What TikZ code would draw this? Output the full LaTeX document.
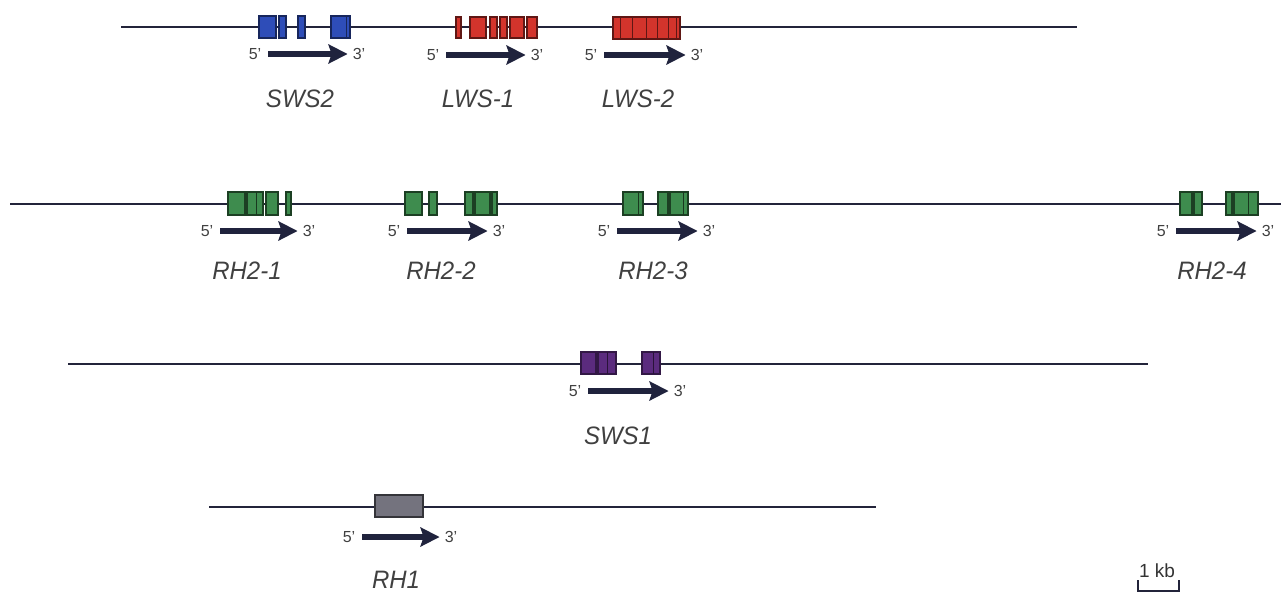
\documentclass[tikz,border=0pt]{standalone}
\usepackage{fontspec}
\setmainfont{Liberation Sans}
\usetikzlibrary{arrows.meta}
\definecolor{dna}{HTML}{23243A}
\definecolor{arr}{HTML}{20233D}
\definecolor{blueex}{HTML}{2E4DB8}
\definecolor{redex}{HTML}{D3342C}
\definecolor{greenex}{HTML}{3E8C4E}
\definecolor{purpex}{HTML}{5B2B7E}
\definecolor{grayex}{HTML}{74737E}
\tikzset{
  dnaline/.style={draw=dna, line width=2.6pt},
  exon/.style={line width=1.2pt},
  sws2ex/.style={exon, fill=blueex, draw=blueex!50!black},
  lwsex/.style={exon, fill=redex, draw=redex!45!black},
  rh2ex/.style={exon, fill=greenex, draw=greenex!45!black},
  sws1ex/.style={exon, fill=purpex, draw=purpex!55!black},
  rh1ex/.style={exon, fill=grayex, draw=grayex!45!black},
  endlbl/.style={font=\fontsize{16}{16}\selectfont, text=black!75, inner sep=0pt},
  genelbl/.style={font=\fontsize{24}{24}\selectfont\itshape, text=black!75, inner sep=0pt, yscale=1.05},
  genearrow/.style={draw=arr, line width=6pt, -{Stealth[width=19pt,length=19pt,inset=3pt]}, shorten <=7pt, shorten >=5pt},
}
\begin{document}
\begin{tikzpicture}[x=1pt,y=-1pt]
\useasboundingbox (0,0) rectangle (1281,594);
% ---------- Row 1 ----------
\coordinate (r1a) at (121,27); \coordinate (r1b) at (1077,27);
\draw[dnaline] (r1a) -- (r1b);
% SWS2
\draw[sws2ex] (259,16) rectangle (276,38);
\draw[sws2ex] (279,16) rectangle (286,38);
\draw[sws2ex] (298,16) rectangle (305,38);
\draw[sws2ex] (331,16) rectangle (350,38);
\draw[blueex!50!black, line width=0.8pt] (346,16) -- (346,38);
\node[endlbl] (s2five) at (255,54) {5'};
\node[endlbl] (s2three) at (359,54) {3'};
\draw[genearrow] (s2five) -- (s2three);
\node[genelbl] (s2) at (300,99) {SWS2};
% LWS-1
\draw[lwsex] (456,17) rectangle (461,38);
\draw[lwsex] (470,17) rectangle (486,38);
\draw[lwsex] (490,17) rectangle (497,38);
\draw[lwsex] (500,17) rectangle (507,38);
\draw[lwsex] (510,17) rectangle (524,38);
\draw[lwsex] (527,17) rectangle (537,38);
\node[endlbl] (l1five) at (433,55) {5'};
\node[endlbl] (l1three) at (537,55) {3'};
\draw[genearrow] (l1five) -- (l1three);
\node[genelbl] (l1) at (478,99) {LWS-1};
% LWS-2
\draw[lwsex] (613,17) rectangle (680,39);
\foreach \xx in {620,632,646,657,668,676}{\draw[redex!45!black, line width=1pt] (\xx,17) -- (\xx,39);}
\node[endlbl] (l2five) at (591,55) {5'};
\node[endlbl] (l2three) at (697,55) {3'};
\draw[genearrow] (l2five) -- (l2three);
\node[genelbl] (l2) at (638,99) {LWS-2};
% ---------- Row 2 ----------
\coordinate (r2a) at (10,204); \coordinate (r2b) at (1281,204);
\draw[dnaline] (r2a) -- (r2b);
% RH2-1
\draw[rh2ex] (228,192) rectangle (245,215);
\draw[rh2ex] (247,192) rectangle (263,215);
\draw[rh2ex] (266,192) rectangle (278,215);
\draw[rh2ex] (286,192) rectangle (291,215);
\draw[greenex!40!black, line width=1pt] (256,192) -- (256,215);
\node[endlbl] (a1five) at (207,231) {5'};
\node[endlbl] (a1three) at (309,231) {3'};
\draw[genearrow] (a1five) -- (a1three);
\node[genelbl] (a1) at (247,271) {RH2-1};
% RH2-2
\draw[rh2ex] (405,192) rectangle (422,215);
\draw[rh2ex] (429,192) rectangle (437,215);
\draw[rh2ex] (465,192) rectangle (473,215);
\draw[rh2ex] (475,192) rectangle (490,215);
\draw[rh2ex] (492,192) rectangle (497,215);
\node[endlbl] (a2five) at (394,231) {5'};
\node[endlbl] (a2three) at (499,231) {3'};
\draw[genearrow] (a2five) -- (a2three);
\node[genelbl] (a2) at (441,271) {RH2-2};
% RH2-3
\draw[rh2ex] (623,192) rectangle (643,215);
\draw[rh2ex] (658,192) rectangle (668,215);
\draw[rh2ex] (670,192) rectangle (688,215);
\draw[greenex!40!black, line width=1pt] (638,192) -- (638,215);
\draw[greenex!40!black, line width=1pt] (683,192) -- (683,215);
\node[endlbl] (a3five) at (604,231) {5'};
\node[endlbl] (a3three) at (709,231) {3'};
\draw[genearrow] (a3five) -- (a3three);
\node[genelbl] (a3) at (653,271) {RH2-3};
% RH2-4
\draw[rh2ex] (1180,192) rectangle (1192,215);
\draw[rh2ex] (1194,192) rectangle (1202,215);
\draw[rh2ex] (1226,192) rectangle (1232,215);
\draw[rh2ex] (1234,192) rectangle (1258,215);
\draw[greenex!40!black, line width=1pt] (1248,192) -- (1248,215);
\node[endlbl] (a4five) at (1163,231) {5'};
\node[endlbl] (a4three) at (1268,231) {3'};
\draw[genearrow] (a4five) -- (a4three);
\node[genelbl] (a4) at (1212,271) {RH2-4};
% ---------- Row 3 ----------
\coordinate (r3a) at (68,364); \coordinate (r3b) at (1148,364);
\draw[dnaline] (r3a) -- (r3b);
\draw[sws1ex] (581,352) rectangle (596,374);
\draw[sws1ex] (598,352) rectangle (616,374);
\draw[sws1ex] (642,352) rectangle (660,374);
\draw[purpex!45!black, line width=1pt] (607,352) -- (607,374);
\draw[purpex!45!black, line width=1pt] (653,352) -- (653,374);
\node[endlbl] (p5) at (575,391) {5'};
\node[endlbl] (p3) at (680,391) {3'};
\draw[genearrow] (p5) -- (p3);
\node[genelbl] (p) at (618,436) {SWS1};
% ---------- Row 4 ----------
\coordinate (r4a) at (209,507); \coordinate (r4b) at (876,507);
\draw[dnaline] (r4a) -- (r4b);
\draw[rh1ex] (375,495) rectangle (423,517);
\node[endlbl] (g5) at (349,537) {5'};
\node[endlbl] (g3) at (451,537) {3'};
\draw[genearrow] (g5) -- (g3);
\node[genelbl] (g) at (396,580) {RH1};
% ---------- Scale bar ----------
\node[font=\fontsize{19}{19}\selectfont, text=black!80, inner sep=0pt] (kb) at (1157,571) {1 kb};
\coordinate (sb1) at (1138,580); \coordinate (sb2) at (1138,591);
\coordinate (sb3) at (1179,591); \coordinate (sb4) at (1179,580);
\draw[dna, line width=2.2pt] (sb1) -- (sb2) -- (sb3) -- (sb4);
\end{tikzpicture}
\end{document}
